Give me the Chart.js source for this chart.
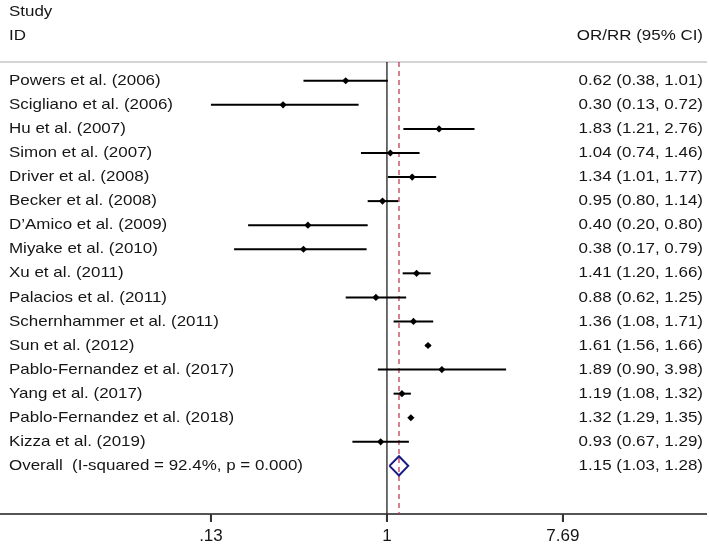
<!DOCTYPE html>
<html>
<head>
<meta charset="utf-8">
<script src="https://cdn.jsdelivr.net/npm/chart.js@4"></script>
<style>
  html, body { margin: 0; padding: 0; background: #fff; }
  canvas { display: block; }
</style>
</head>
<body>
<canvas id="forest" width="709" height="545"></canvas>
<script>
// study data
const studies = [
  "Powers et al. (2006)",
  "Scigliano et al. (2006)",
  "Hu et al. (2007)",
  "Simon et al. (2007)",
  "Driver et al. (2008)",
  "Becker et al. (2008)",
  "D\u2019Amico et al. (2009)",
  "Miyake et al. (2010)",
  "Xu et al. (2011)",
  "Palacios et al. (2011)",
  "Schernhammer et al. (2011)",
  "Sun et al. (2012)",
  "Pablo-Fernandez et al. (2017)",
  "Yang et al. (2017)",
  "Pablo-Fernandez et al. (2018)",
  "Kizza et al. (2019)"
];
const estimates = [0.62, 0.30, 1.83, 1.04, 1.34, 0.95, 0.40, 0.38, 1.41, 0.88, 1.36, 1.61, 1.89, 1.19, 1.32, 0.93];
const lowerCI   = [0.38, 0.13, 1.21, 0.74, 1.01, 0.80, 0.20, 0.17, 1.20, 0.62, 1.08, 1.56, 0.90, 1.08, 1.29, 0.67];
const upperCI   = [1.01, 0.72, 2.76, 1.46, 1.77, 1.14, 0.80, 0.79, 1.66, 1.25, 1.71, 1.66, 3.98, 1.32, 1.35, 1.29];

const overallLabel = "Overall  (I-squared = 92.4%, p = 0.000)";
const overallEst = 1.15;
const overallLo = 1.03;
const overallHi = 1.28;

const tickValues = [0.13, 1, 7.69];
const tickLabels = [".13", "1", "7.69"];

// layout / style
const FONT = "'Liberation Sans', Arial, Helvetica, sans-serif";
const TEXT_SIZE = 15;
const TEXT_STRETCH = 1.13;
const TEXT_COLOR = "#151515";
const X_MIN = 0.01127;
const X_MAX = 40.4;
const Y_MIN = -0.78;
const Y_MAX = 18.0;
const DIAMOND_HALF = 0.4;
const TICK_LEN = 8;

const overallRow = studies.length;
const fmt = (v) => v.toFixed(2);

// one dataset per CI line
const ciSets = studies.map((s, i) => ({
  data: [{ x: lowerCI[i], y: i }, { x: upperCI[i], y: i }],
  showLine: true,
  borderColor: "#000",
  borderWidth: 2,
  pointRadius: 0,
  order: 2,
}));

const datasets = [
  {
    data: estimates.map((v, i) => ({ x: v, y: i })),
    showLine: false,
    pointStyle: "rectRot",
    pointRadius: 3.6,
    backgroundColor: "#000",
    borderColor: "#000",
    borderWidth: 0,
    order: 0,
  },
  ...ciSets,
  {
    // pooled estimate diamond
    data: [
      { x: overallLo, y: overallRow },
      { x: overallEst, y: overallRow - DIAMOND_HALF },
      { x: overallHi, y: overallRow },
      { x: overallEst, y: overallRow + DIAMOND_HALF },
      { x: overallLo, y: overallRow },
    ],
    showLine: true,
    borderColor: "#1b1b85",
    borderWidth: 2,
    pointRadius: 0,
    fill: false,
    order: 1,
  },
  {
    // no-effect line
    data: [{ x: 1, y: Y_MIN }, { x: 1, y: Y_MAX }],
    showLine: true,
    borderColor: "#222",
    borderWidth: 1.3,
    pointRadius: 0,
    order: 4,
  },
  {
    // overall estimate line
    data: [{ x: overallEst, y: Y_MIN }, { x: overallEst, y: Y_MAX }],
    showLine: true,
    borderColor: "#c23a52",
    borderWidth: 1.3,
    borderDash: [5, 4],
    pointRadius: 0,
    order: 3,
  },
];

function drawText(ctx, str, x, y, align) {
  ctx.save();
  ctx.translate(x, y);
  ctx.scale(TEXT_STRETCH, 1);
  ctx.textAlign = align;
  ctx.fillText(str, 0, 0);
  ctx.restore();
}

const textPlugin = {
  id: "forestText",
  beforeDatasetsDraw(chart) {
    const ctx = chart.ctx;
    ctx.save();
    ctx.strokeStyle = "#d4d4d4";
    ctx.lineWidth = 2;
    ctx.beginPath();
    ctx.moveTo(0, chart.chartArea.top);
    ctx.lineTo(707, chart.chartArea.top);
    ctx.stroke();
    ctx.restore();
  },
  afterDraw(chart) {
    const ctx = chart.ctx;
    const yScale = chart.scales.y;
    const xScale = chart.scales.x;
    const right = 703;
    ctx.save();
    ctx.setLineDash([]);

    // tick marks under the axis line, a bit heavier than the default
    ctx.strokeStyle = "#333";
    ctx.lineWidth = 2;
    xScale.ticks.forEach((t) => {
      const x = xScale.getPixelForValue(t.value);
      ctx.beginPath();
      ctx.moveTo(x, xScale.top);
      ctx.lineTo(x, xScale.top + TICK_LEN);
      ctx.stroke();
    });

    ctx.font = `${TEXT_SIZE}px ${FONT}`;
    ctx.fillStyle = TEXT_COLOR;
    ctx.textBaseline = "middle";

    drawText(ctx, "Study", 9, 12, "left");
    drawText(ctx, "ID", 9, 36, "left");
    drawText(ctx, "OR/RR (95% CI)", right, 36, "right");

    studies.forEach((name, i) => {
      const y = yScale.getPixelForValue(i);
      drawText(ctx, name, 9, y, "left");
      drawText(ctx, `${fmt(estimates[i])} (${fmt(lowerCI[i])}, ${fmt(upperCI[i])})`, right, y, "right");
    });

    const yo = yScale.getPixelForValue(overallRow);
    drawText(ctx, overallLabel, 9, yo, "left");
    drawText(ctx, `${fmt(overallEst)} (${fmt(overallLo)}, ${fmt(overallHi)})`, right, yo, "right");
    ctx.restore();
  },
};

new Chart(document.getElementById("forest"), {
  type: "scatter",
  data: { datasets },
  options: {
    responsive: false,
    animation: false,
    layout: { autoPadding: false, padding: { top: 62, left: 0, right: 3, bottom: 0 } },
    plugins: { legend: { display: false }, tooltip: { enabled: false } },
    scales: {
      x: {
        type: "logarithmic",
        position: "bottom",
        min: X_MIN,
        max: X_MAX,
        afterBuildTicks: (scale) => {
          scale.ticks = tickValues.map((v) => ({ value: v }));
        },
        afterFit: (scale) => {
          scale.height = 31;
        },
        ticks: {
          callback: (val, idx) => tickLabels[idx],
          autoSkip: false,
          maxRotation: 0,
          padding: 4,
          color: TEXT_COLOR,
          font: { family: FONT, size: 17 },
        },
        grid: {
          drawOnChartArea: false,
          drawTicks: true,
          tickLength: TICK_LEN,
          color: "#333",
          lineWidth: 2,
        },
        border: { display: true, color: "#555", width: 2 },
      },
      y: {
        type: "linear",
        reverse: true,
        min: Y_MIN,
        max: Y_MAX,
        display: false,
      },
    },
  },
  plugins: [textPlugin],
});
</script>
</body>
</html>
